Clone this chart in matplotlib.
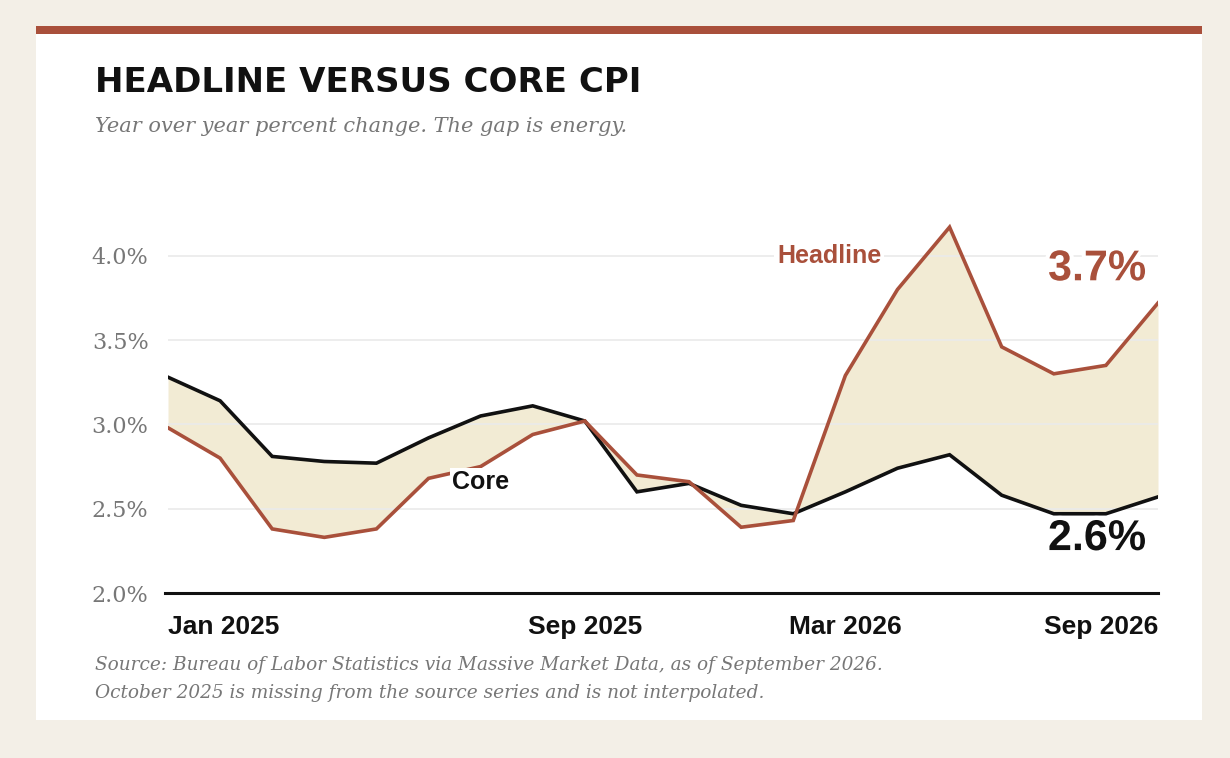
import numpy as np
import matplotlib.pyplot as plt
import matplotlib.patheffects as pe
from matplotlib.patches import Rectangle

# monthly CPI, Oct 2025 is missing from the source
months = ["Jan 2025", "Feb 2025", "Mar 2025", "Apr 2025", "May 2025", "Jun 2025",
          "Jul 2025", "Aug 2025", "Sep 2025", "Nov 2025", "Dec 2025", "Jan 2026",
          "Feb 2026", "Mar 2026", "Apr 2026", "May 2026", "Jun 2026", "Jul 2026",
          "Aug 2026", "Sep 2026"]
headline = [2.98, 2.80, 2.38, 2.33, 2.38, 2.68, 2.75, 2.94, 3.02, 2.70,
            2.66, 2.39, 2.43, 3.29, 3.80, 4.17, 3.46, 3.30, 3.35, 3.72]
core = [3.28, 3.14, 2.81, 2.78, 2.77, 2.92, 3.05, 3.11, 3.02, 2.60,
        2.65, 2.52, 2.47, 2.60, 2.74, 2.82, 2.58, 2.47, 2.47, 2.57]
tick_labels = ["Jan 2025", "Sep 2025", "Mar 2026", "Sep 2026"]
y_ticks = [2.0, 2.5, 3.0, 3.5, 4.0]

RED = "#A9503B"
INK = "#111111"
FILL = "#F2EBD4"
GREY = "#777777"
W, H = 1230, 758

fig = plt.figure(figsize=(W / 100, H / 100), dpi=100)
fig.patch.set_facecolor("#F3EFE7")

def fx(px):
    return px / W

def fy(py):
    return 1 - py / H

# white card with red top rule
fig.patches.append(Rectangle((fx(36), fy(720)), fx(1202 - 36), (720 - 34) / H,
                             transform=fig.transFigure, facecolor="white", zorder=0))
fig.patches.append(Rectangle((fx(36), fy(34)), fx(1202 - 36), 8 / H,
                             transform=fig.transFigure, facecolor=RED, zorder=0))

fig.text(fx(95), fy(82), "HEADLINE VERSUS CORE CPI", fontsize=24.5, fontweight="bold",
         family="DejaVu Sans", color=INK, va="center", ha="left")
fig.text(fx(95), fy(127), "Year over year percent change. The gap is energy.",
         fontsize=15, style="italic", family="DejaVu Serif", color=GREY,
         va="center", ha="left")
fig.text(fx(95), fy(665), "Source: Bureau of Labor Statistics via Massive Market Data, as of September 2026.",
         fontsize=13.3, style="italic", family="DejaVu Serif", color=GREY, va="center")
fig.text(fx(95), fy(693), "October 2025 is missing from the source series and is not interpolated.",
         fontsize=13.3, style="italic", family="DejaVu Serif", color=GREY, va="center")

ymin, ymax = 2.0, 4.25
top_px = 593 - (ymax - ymin) * 168.6
ax = fig.add_axes([fx(168), fy(593), fx(1158 - 168), (593 - top_px) / H])
ax.set_zorder(2)
ax.set_facecolor("none")

x = np.arange(len(months))
ax.fill_between(x, headline, core, color=FILL, lw=0, zorder=1)
ax.plot(x, core, color=INK, lw=2.6, zorder=3, solid_joinstyle="miter")
ax.plot(x, headline, color=RED, lw=2.6, zorder=3, solid_joinstyle="miter")

ax.set_xlim(0, len(months) - 1)
ax.set_ylim(ymin, ymax)
ax.set_yticks(y_ticks)
ax.set_yticklabels([f"{v:.1f}%" for v in y_ticks], family="DejaVu Serif",
                   fontsize=16, color=GREY)
ax.yaxis.grid(True, color="#EAEAEA", lw=1.2, zorder=0)
ax.tick_params(axis="y", length=0, pad=14)

tick_pos = [months.index(t) for t in tick_labels]
ax.set_xticks(tick_pos)
ax.set_xticklabels(tick_labels, fontsize=19, fontweight="bold",
                   family="Liberation Sans", color=INK)
ax.tick_params(axis="x", length=0, pad=16)
xt = ax.get_xticklabels()
xt[0].set_ha("left")
xt[-1].set_ha("right")

for s in ["top", "right", "left"]:
    ax.spines[s].set_visible(False)
ax.spines["bottom"].set_color(INK)
ax.spines["bottom"].set_linewidth(2.2)
ax.spines["bottom"].set_bounds(-0.06, len(months) - 1)
ax.spines["bottom"].set_zorder(4)

# labels
ax.text(12.69, 4.0, "Headline", color=RED, fontsize=18, fontweight="bold",
        family="Liberation Sans", ha="center", va="center", zorder=5,
        bbox=dict(facecolor="white", edgecolor="none", pad=2))
ax.text(6.0, 2.66, "Core", color=INK, fontsize=18, fontweight="bold",
        family="Liberation Sans", ha="center", va="center", zorder=5,
        bbox=dict(facecolor="white", edgecolor="none", pad=1.5))
ax.text(17.83, 3.92, f"{headline[-1]:.1f}%", color=RED, fontsize=31, fontweight="bold",
        family="Liberation Sans", ha="center", va="center", zorder=5,
        path_effects=[pe.withStroke(linewidth=6, foreground="white")])
ax.text(17.83, 2.32, f"{core[-1]:.1f}%", color=INK, fontsize=31, fontweight="bold",
        family="Liberation Sans", ha="center", va="center", zorder=5,
        path_effects=[pe.withStroke(linewidth=6, foreground="white")])

fig.savefig("out.png", dpi=100, facecolor=fig.get_facecolor())
